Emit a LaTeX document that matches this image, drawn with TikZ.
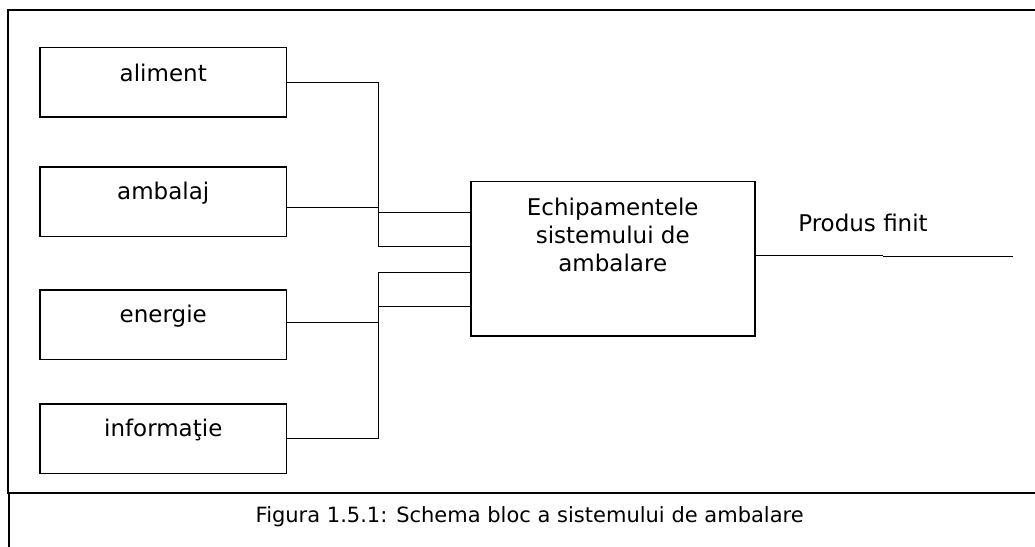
\documentclass[tikz,border=0pt]{standalone}
\usepackage{fontspec}
\setmainfont{DejaVu Sans}
\begin{document}
\begin{tikzpicture}[x=1pt,y=-1pt,
  wire/.style={line width=1.5pt},
  inbox/.style={draw,line width=1.5pt,minimum width=246.4pt,minimum height=69.4pt,inner sep=0pt,anchor=north west},
  boxtext/.style={font=\fontsize{23}{28}\selectfont,inner sep=0pt,anchor=center},
  frameline/.style={line width=1.8pt}]
\useasboundingbox (0,0) rectangle (1035,546);
% frame
\coordinate (ftl) at (8,10);
\coordinate (ftr) at (1036,10);
\coordinate (fbl) at (8,492.7);
\coordinate (fbr) at (1036,492.7);
\coordinate (cbl) at (9.3,492.7);
\coordinate (cbb) at (9.3,547);
\draw[frameline] (ftr) -- (ftl) -- (fbl) -- (fbr);
\draw[frameline] (cbl) -- (cbb);
% input boxes
\node[inbox] (aliment) at (39.3,46.7) {};
\node[boxtext] (talim) at ([yshift=-26.5pt]aliment.north) {aliment};
\node[inbox] (ambalaj) at (39.3,166.3) {};
\node[boxtext] (tamb) at ([yshift=-27pt]ambalaj.north) {ambalaj};
\node[inbox] (energie) at (39.3,289.3) {};
\node[boxtext] (tener) at ([yshift=-27pt]energie.north) {energie};
\node[inbox] (informatie) at (39.3,403.3) {};
\node[boxtext] (tinfo) at ([yshift=-26.5pt]informatie.north) {informaţie};
% central box
\node[draw,line width=1.5pt,minimum width=284pt,minimum height=154.3pt,inner sep=0pt,anchor=north west] (equip) at (470,180.7) {};
\node[boxtext,align=center] (tequip) at ([yshift=-54pt]equip.north) {Echipamentele\\sistemului de\\ambalare};
% connectors upper
\coordinate (b1a) at (378.3,82.7);
\coordinate (b1b) at (378.3,246.7);
\coordinate (b1c) at (378.3,207.3);
\coordinate (b1d) at (378.3,212.3);
\draw[wire] (aliment.east |- b1a) -- (b1a) -- (b1b) -- (equip.west |- b1b);
\draw[wire] (ambalaj.east |- b1c) -- (b1c);
\draw[wire] (b1d) -- (equip.west |- b1d);
% connectors lower
\coordinate (b2a) at (378.3,272.7);
\coordinate (b2b) at (378.3,438.3);
\coordinate (b2c) at (378.3,306.7);
\coordinate (b2d) at (378.3,322.3);
\draw[wire] (equip.west |- b2a) -- (b2a) -- (b2b) -- (informatie.east |- b2b);
\draw[wire] (b2c) -- (equip.west |- b2c);
\draw[wire] (energie.east |- b2d) -- (b2d);
% output
\coordinate (o1) at (882.7,255.3);
\coordinate (o2) at (882.7,256.5);
\coordinate (o3) at (1012.7,256.5);
\draw[wire] (equip.east |- o1) -- (o1);
\draw[wire] (o2) -- (o3);
\node[boxtext] (produs) at (863,222.7) {Produs finit};
% caption
\node[font=\fontsize{21}{25}\selectfont,inner sep=0pt] (caption) at (529.7,517) {Figura 1.5.1: Schema bloc a sistemului de ambalare};
\end{tikzpicture}
\end{document}
